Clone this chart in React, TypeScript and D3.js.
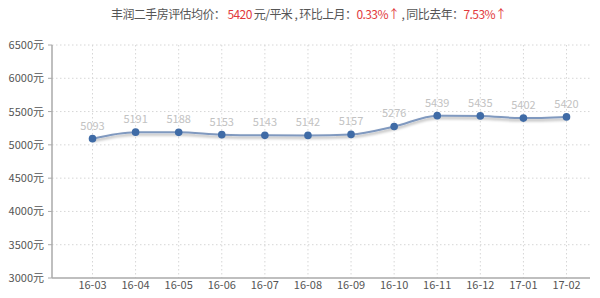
import React from "react";
import * as d3 from "d3";

const months = ["16-03","16-04","16-05","16-06","16-07","16-08","16-09","16-10","16-11","16-12","17-01","17-02"];
const prices = [5093,5191,5188,5153,5143,5142,5157,5276,5439,5435,5402,5420];
const yTicks = [3000,3500,4000,4500,5000,5500,6000,6500];

const W = 600, H = 298;
const axisLeft = 52, axisRight = 590, plotTop = 45, plotBottom = 278;

export default function App() {
  const x = d3.scalePoint<string>().domain(months).range([92.5, 566.5]);
  const y = d3.scaleLinear().domain([3000, 6500]).range([plotBottom, plotTop]);
  const line = d3.line<number>()
    .x((_, i) => x(months[i]) as number)
    .y((d) => y(d))
    .curve(d3.curveMonotoneX);
  const font = "'Noto Sans CJK SC', 'Noto Sans', sans-serif";
  const red = "#e2393c";
  const grey = "#555";
  return (
    <svg width={W} height={H} style={{ position: "absolute", left: 0, top: 0, display: "block" }} fontFamily={font}>
      <defs>
        <filter id="sh" x="-10%" y="-50%" width="120%" height="200%">
          <feGaussianBlur in="SourceAlpha" stdDeviation="1.5" />
          <feOffset dx="0" dy="2" result="b" />
          <feComponentTransfer><feFuncA type="linear" slope="0.35" /></feComponentTransfer>
          <feMerge><feMergeNode /><feMergeNode in="SourceGraphic" /></feMerge>
        </filter>
      </defs>
      <rect width={W} height={H} fill="#fff" />
      <text x={111} y={19} textAnchor="start" fontSize={12} fill={grey} textLength={396} lengthAdjust="spacing">
        <tspan>丰润二手房评估均价： </tspan>
        <tspan fill={red}>5420</tspan>
        <tspan> 元/平米 , 环比上月：</tspan>
        <tspan fill={red}>0.33%↑</tspan>
        <tspan> , 同比去年：</tspan>
        <tspan fill={red}>7.53%↑</tspan>
      </text>
      {yTicks.map((t) => (
        <g key={t}>
          {t !== 3000 && (
            <line x1={axisLeft} x2={axisRight} y1={y(t)} y2={y(t)} stroke="#d6d6d6" strokeDasharray="1.5,2.5" />
          )}
          <line x1={axisLeft - 4} x2={axisLeft} y1={y(t)} y2={y(t)} stroke="#aaa" />
          <text x={axisLeft - 8} y={y(t) + 4} textAnchor="end" fontSize={11} fill={grey}>{t}元</text>
        </g>
      ))}
      {months.map((m) => (
        <g key={m}>
          <line x1={x(m)} x2={x(m)} y1={plotTop} y2={plotBottom} stroke="#d6d6d6" strokeDasharray="1.5,2.5" />
          <text x={(x(m) as number)} y={plotBottom + 11} textAnchor="middle" fontSize={11} fill={grey}>{m}</text>
        </g>
      ))}
      <line x1={axisLeft} x2={axisLeft} y1={plotTop} y2={plotBottom} stroke="#aaa" strokeWidth={1.5} />
      <line x1={axisLeft} x2={axisRight} y1={plotBottom} y2={plotBottom} stroke="#aaa" strokeWidth={1.5} />
      <path d={line(prices) || ""} fill="none" stroke="#8099bf" strokeWidth={2} filter="url(#sh)" />
      {prices.map((p, i) => (
        <g key={i}>
          <circle cx={x(months[i])} cy={y(p)} r={3.8} fill="#3f6ba6" />
          <text x={x(months[i])} y={y(p) - 9} textAnchor="middle" fontSize={11} fill="#c2c2c2">{p}</text>
        </g>
      ))}
    </svg>
  );
}
